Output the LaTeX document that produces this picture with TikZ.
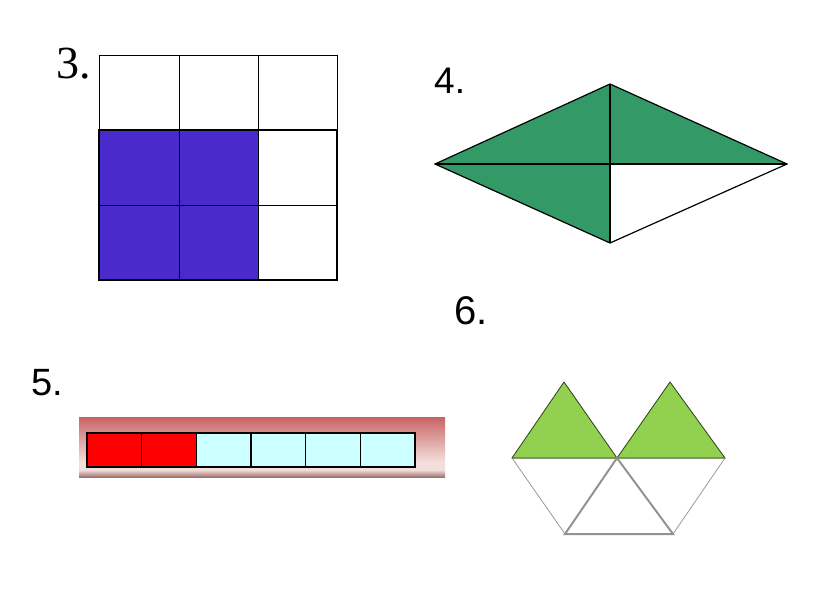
\documentclass[tikz,border=0pt]{standalone}
\usepackage{fontspec}
\setmainfont{Liberation Serif}
\newfontfamily\arialf{Liberation Sans}
\definecolor{gridblue}{HTML}{4B2ACC}
\definecolor{rhgreen}{HTML}{339966}
\definecolor{trigreen}{HTML}{92D050}
\definecolor{cellred}{HTML}{FF0000}
\definecolor{cellcyan}{HTML}{CCFFFF}
\definecolor{bartop}{HTML}{C86464}
\definecolor{barmid}{HTML}{F2DEDA}
\definecolor{barbot}{HTML}{A07272}
\pgfdeclareverticalshading{barshade}{100bp}{color(0bp)=(barbot); color(25bp)=(barbot); color(31bp)=(barmid); color(38bp)=(barmid); color(75bp)=(bartop); color(100bp)=(bartop)}
\tikzset{
  numlabel/.style={anchor=base west, inner sep=0pt, font=\arialf\fontsize{38}{40}\selectfont},
  gridline/.style={draw=black, line width=1pt},
  rhline/.style={draw=black, line width=1.2pt, line join=miter},
  cellbox/.style={draw=black, line width=1.2pt},
  trigreenstyle/.style={fill=trigreen, draw=black!70!trigreen, line width=0.8pt},
  triwhite/.style={draw=gray!80, line width=0.8pt},
  trithick/.style={draw=gray!85, line width=2pt}
}
\begin{document}
\begin{tikzpicture}[x=1pt,y=-1pt]
\useasboundingbox (0,0) rectangle (816,613);
% ---- 3 ----
\node[anchor=base west, inner sep=0pt, font=\fontsize{46}{48}\selectfont] (l3) at (56,78) {3.};
\fill[gridblue] (99,130) rectangle (258,280);
\foreach \x in {99,179,258,337}{ \draw[gridline] (\x,55) -- (\x,280); }
\foreach \y in {55,130,205,280}{ \draw[gridline] (99,\y) -- (337,\y); }
\draw[line width=1.8pt] (99,130) -- (99,280) -- (337,280) -- (337,130) -- cycle;
% ---- 4 ----
\node[numlabel, font=\arialf\fontsize{37}{39}\selectfont] (l4) at (434,93) {4.};
\coordinate (L) at (435,164);
\coordinate (T) at (610,84);
\coordinate (R) at (787,164);
\coordinate (B) at (610,243);
\coordinate (C) at (610,164);
\fill[rhgreen] (L) -- (T) -- (R) -- (C) -- (B) -- cycle;
\draw[rhline] (L) -- (T) -- (R) -- (B) -- cycle;
\draw[rhline] (L) -- (R) (T) -- (B);
% ---- 5 ----
\node[numlabel] (l5) at (31,395) {5.};
\shade[shading=barshade] (79,417) rectangle (445,477);
\foreach \i/\c in {0/cellred,1/cellred,2/cellcyan,3/cellcyan,4/cellcyan,5/cellcyan}{
  \draw[cellbox, fill=\c] ({87+\i*54.67},433) rectangle ({87+(\i+1)*54.67},467);
}
% ---- 6 ----
\node[numlabel, font=\arialf\fontsize{40}{42}\selectfont] (l6) at (454,324) {6.};
\coordinate (A1) at (512,458);
\coordinate (A2) at (617,458);
\coordinate (A3) at (725,458);
\coordinate (P1) at (564,382);
\coordinate (P2) at (670,382);
\coordinate (Q1) at (565,534);
\coordinate (Q2) at (673,534);
\draw[trigreenstyle] (A1) -- (P1) -- (A2) -- cycle;
\draw[trigreenstyle] (A2) -- (P2) -- (A3) -- cycle;
\draw[triwhite] (A1) -- (Q1) (A3) -- (Q2);
\draw[trithick] (Q1) -- (A2) -- (Q2) -- cycle;
\draw[draw=gray!70!trigreen, line width=0.8pt] (A1) -- (A3);
\end{tikzpicture}
\end{document}
